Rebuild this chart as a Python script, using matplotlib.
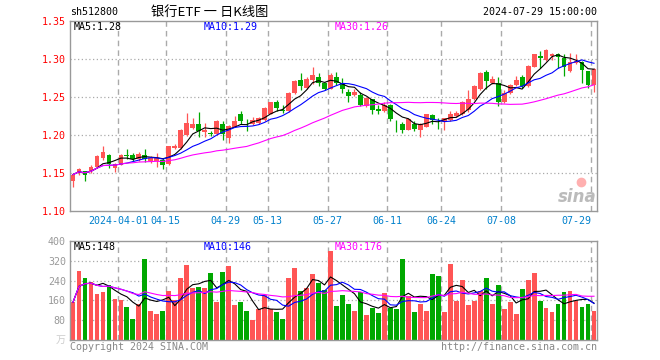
import numpy as np
import pandas as pd
import matplotlib
matplotlib.use('Agg')
import matplotlib.pyplot as plt
from matplotlib.transforms import blended_transform_factory

plt.rcParams['font.family'] = ['DejaVu Sans Mono', 'Noto Sans CJK SC']

# 日K数据 (2024-03-20 .. 2024-07-29)
opens = [1.139, 1.151, 1.152, 1.152, 1.158, 1.170, 1.174, 1.157, 1.161, 1.174,
         1.174, 1.168, 1.174, 1.166, 1.166, 1.167, 1.162, 1.183, 1.183, 1.200,
         1.209, 1.215, 1.204, 1.203, 1.201, 1.214, 1.196, 1.211, 1.227, 1.219,
         1.214, 1.216, 1.220, 1.228, 1.244, 1.233, 1.231, 1.255, 1.273, 1.262,
         1.273, 1.276, 1.269, 1.261, 1.276, 1.268, 1.257, 1.252, 1.253, 1.238,
         1.247, 1.234, 1.231, 1.239, 1.219, 1.215, 1.207, 1.214, 1.207, 1.211,
         1.226, 1.219, 1.217, 1.220, 1.225, 1.227, 1.233, 1.247, 1.260, 1.283,
         1.268, 1.268, 1.244, 1.255, 1.266, 1.276, 1.264, 1.290, 1.304, 1.299,
         1.304, 1.306, 1.301, 1.284, 1.295, 1.296, 1.284, 1.266]
closes = [1.148, 1.155, 1.148, 1.158, 1.173, 1.177, 1.162, 1.162, 1.174, 1.173,
          1.168, 1.175, 1.168, 1.170, 1.170, 1.161, 1.185, 1.186, 1.206, 1.216,
          1.214, 1.205, 1.206, 1.201, 1.219, 1.201, 1.212, 1.219, 1.218, 1.218,
          1.220, 1.222, 1.236, 1.243, 1.236, 1.231, 1.255, 1.271, 1.265, 1.274,
          1.279, 1.268, 1.260, 1.279, 1.268, 1.260, 1.251, 1.256, 1.240, 1.249,
          1.233, 1.232, 1.240, 1.221, 1.218, 1.207, 1.221, 1.208, 1.214, 1.227,
          1.220, 1.218, 1.222, 1.227, 1.229, 1.244, 1.247, 1.265, 1.282, 1.271,
          1.274, 1.244, 1.255, 1.266, 1.273, 1.264, 1.291, 1.306, 1.301, 1.312,
          1.306, 1.302, 1.290, 1.296, 1.298, 1.286, 1.266, 1.287]
highs = [1.150, 1.157, 1.153, 1.160, 1.174, 1.186, 1.175, 1.163, 1.175, 1.182,
         1.176, 1.178, 1.182, 1.172, 1.176, 1.170, 1.186, 1.188, 1.208, 1.229,
         1.222, 1.230, 1.216, 1.205, 1.220, 1.218, 1.213, 1.225, 1.231, 1.221,
         1.224, 1.224, 1.237, 1.244, 1.246, 1.239, 1.257, 1.272, 1.282, 1.276,
         1.289, 1.282, 1.270, 1.281, 1.283, 1.275, 1.261, 1.261, 1.257, 1.250,
         1.248, 1.239, 1.244, 1.241, 1.220, 1.217, 1.222, 1.219, 1.216, 1.228,
         1.227, 1.222, 1.223, 1.231, 1.232, 1.245, 1.259, 1.266, 1.283, 1.285,
         1.277, 1.276, 1.259, 1.267, 1.278, 1.279, 1.292, 1.307, 1.311, 1.313,
         1.308, 1.308, 1.306, 1.308, 1.306, 1.298, 1.284, 1.288]
lows = [1.132, 1.147, 1.140, 1.150, 1.157, 1.167, 1.157, 1.151, 1.160, 1.169,
        1.166, 1.166, 1.165, 1.163, 1.158, 1.155, 1.161, 1.181, 1.182, 1.199,
        1.208, 1.198, 1.197, 1.199, 1.200, 1.194, 1.190, 1.210, 1.214, 1.205,
        1.213, 1.214, 1.219, 1.227, 1.232, 1.229, 1.230, 1.254, 1.259, 1.261,
        1.267, 1.264, 1.259, 1.260, 1.266, 1.255, 1.244, 1.251, 1.238, 1.237,
        1.228, 1.227, 1.230, 1.218, 1.204, 1.202, 1.206, 1.205, 1.198, 1.210,
        1.214, 1.208, 1.207, 1.219, 1.224, 1.226, 1.230, 1.246, 1.259, 1.260,
        1.267, 1.238, 1.242, 1.254, 1.265, 1.262, 1.263, 1.289, 1.288, 1.298,
        1.299, 1.288, 1.277, 1.283, 1.293, 1.268, 1.262, 1.257]
volumes = [153, 280, 249, 236, 187, 193, 224, 164, 160, 132,
           84, 144, 329, 117, 104, 117, 196, 160, 249, 304,
           209, 213, 209, 269, 153, 276, 297, 140, 153, 117,
           80, 124, 180, 124, 112, 84, 252, 292, 200, 209,
           268, 232, 204, 360, 136, 180, 144, 116, 192, 100,
           128, 108, 188, 128, 124, 328, 176, 112, 144, 116,
           268, 260, 112, 308, 156, 244, 140, 156, 200, 252,
           144, 224, 124, 152, 104, 208, 244, 272, 156, 128,
           112, 144, 192, 196, 156, 132, 144, 116]

tick_idx = [8, 16, 26, 33, 43, 53, 62, 72, 87]
tick_lbl = ['2024-04-01', '04-15', '04-29', '05-13', '05-27', '06-11', '06-24', '07-08', '07-29']
price_ma_txt = ['MA5:1.28', 'MA10:1.29', 'MA30:1.26']
vol_ma_txt = ['MA5:148', 'MA10:146', 'MA30:176']

W, H = 660, 360
UP, DOWN = '#FF5555', '#00A800'
GRID = '#AAAAAA'
MA_COLORS = ['black', '#0000FF', '#FF00FF']

o = np.array(opens); c = np.array(closes)
hi = np.array(highs); lo = np.array(lows)
v = np.array(volumes)
x = np.arange(len(c))
cols = np.where(c >= o, UP, DOWN)

fig = plt.figure(figsize=(W / 100, H / 100), dpi=100)

def px_axes(l, t, r, b):
    return fig.add_axes([l / W, 1 - b / H, (r - l) / W, (b - t) / H])

ax = px_axes(70, 21, 597, 211)
ax2 = px_axes(70, 241, 597, 340)

for a in (ax, ax2):
    a.set_xlim(-0.5, len(c) - 0.5)
    for s in a.spines.values():
        s.set_color('#999999')
        s.set_linewidth(1)
    a.set_xticks([])
    a.tick_params(axis='y', length=0, pad=3, labelsize=7.2)
    for i in tick_idx:
        a.axvline(i - 0.5, color=GRID, lw=1, ls=(0, (4, 3)), zorder=0)

# 主图
ax.set_ylim(1.10, 1.35)
yt = [1.10, 1.15, 1.20, 1.25, 1.30, 1.35]
ax.set_yticks(yt)
ax.set_yticklabels(['%.2f' % t for t in yt], color='#FF0000')
for t in yt[1:-1]:
    ax.axhline(t, color=GRID, lw=0.9, ls=(0, (1, 2)), zorder=0)

ax.vlines(x, lo, hi, colors=cols, lw=0.9, zorder=2)
body = np.maximum(np.abs(c - o), 0.0008)
ax.bar(x, body, bottom=np.minimum(o, c), width=0.8, color=cols, zorder=3)

for n, col in zip([5, 10, 30], MA_COLORS):
    ax.plot(x, pd.Series(c).rolling(n, min_periods=1).mean(), color=col, lw=0.8, zorder=4)

# 成交量
ax2.set_ylim(0, 400)
vt = [80, 160, 240, 320, 400]
ax2.set_yticks(vt)
ax2.set_yticklabels([str(t) for t in vt], color='#999999')
for t in vt[:-1]:
    ax2.axhline(t, color=GRID, lw=0.9, ls=(0, (1, 2)), zorder=0)
ax2.bar(x, v, width=0.8, color=cols, zorder=2)
for n, col in zip([5, 10, 30], MA_COLORS):
    ax2.plot(x, pd.Series(v).rolling(n, min_periods=1).mean(), color=col, lw=0.8, zorder=4)

# 日期标签
tr = blended_transform_factory(ax.transData, fig.transFigure)
for i, lbl in zip(tick_idx, tick_lbl):
    ha = 'right' if i == tick_idx[-1] else 'center'
    ax.text(i - 0.5, 1 - 221 / H, lbl, transform=tr, ha=ha, va='center',
            color='#0080CC', fontsize=7.2)

def ftext(px, py, s, **kw):
    kw.setdefault('fontsize', 7.2)
    kw.setdefault('va', 'center')
    fig.text(px / W, 1 - py / H, s, **kw)

for xp, s, col in zip([74, 204, 335], price_ma_txt, MA_COLORS):
    ftext(xp, 27, s, color=col)
for xp, s, col in zip([74, 204, 335], vol_ma_txt, MA_COLORS):
    ftext(xp, 247, s, color=col)

ftext(70, 12, 'sh512800', color='black')
ftext(210, 12, '银行ETF 一 日K线图', ha='center', fontsize=9.5,
      family=['Noto Sans CJK SC', 'DejaVu Sans'])
ftext(597, 12, '2024-07-29 15:00:00', ha='right', color='black')
ftext(66, 340, '万', ha='right', color='#CCCCCC', fontsize=7.2,
      family=['Noto Sans CJK SC', 'DejaVu Sans'])
ftext(70, 347, 'Copyright 2024 SINA.COM', color='#888888')
ftext(597, 347, 'http://finance.sina.com.cn', ha='right', color='#888888')

# 水印
ftext(577, 197, 'sina', ha='center', color='#BBBBBB', fontsize=12,
      style='italic', weight='bold', family='DejaVu Sans')
fig.add_artist(plt.Line2D([581 / W], [1 - 182 / H], marker='o', markersize=6,
                          color='#FFB0B0', transform=fig.transFigure))

fig.savefig('out.png', dpi=100)
